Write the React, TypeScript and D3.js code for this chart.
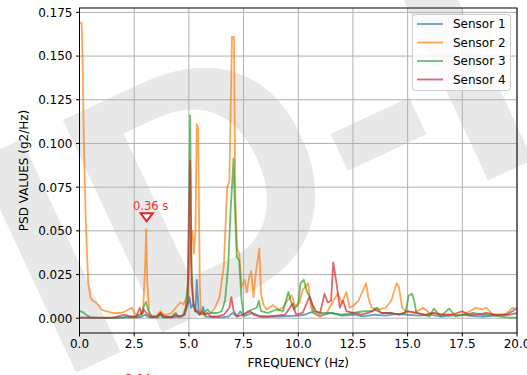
import React, { useRef, useEffect } from 'react';
import * as d3 from 'd3';

// Chart size
const W = 527;
const H = 375;

const sensorNames = ['Sensor 1', 'Sensor 2', 'Sensor 3', 'Sensor 4'];
const sensorColors = ['#1f77b4', '#ff7f0e', '#2ca02c', '#d62728'];

const xTicks = [0, 2.5, 5, 7.5, 10, 12.5, 15, 17.5, 20];
const yTicks = [0, 0.025, 0.05, 0.075, 0.1, 0.125, 0.15, 0.175];

// Sensor 1 (blue)
const s1Freq = [0, 0.5, 1, 1.5, 2.0, 2.2, 2.5, 2.8, 3.0, 3.1, 3.3, 3.7, 3.8, 4.0, 4.4, 4.6, 4.8, 4.95, 5.03, 5.1, 5.2, 5.3, 5.36, 5.45, 5.55, 5.65, 5.75, 6.0, 6.5, 6.8, 7.0, 7.2, 7.35, 7.5, 7.7, 7.9, 8.1, 8.3, 8.6, 9.0, 9.5, 10.0, 10.3, 10.6, 11.0, 11.5, 12.0, 12.5, 13.0, 13.5, 14.0, 14.5, 15.0, 15.5, 16.0, 16.5, 17.0, 17.5, 18.0, 18.5, 19.0, 19.5, 19.8, 20.0];
const s1Psd = [0.0003, 0.0002, 0.0002, 0.0002, 0.0005, 0.001, 0.0005, 0.0007, 0.002, 0.001, 0.0004, 0.002, 0.0005, 0.0003, 0.0008, 0.001, 0.002, 0.008, 0.012, 0.006, 0.008, 0.004, 0.022, 0.004, 0.003, 0.0065, 0.001, 0.0008, 0.0005, 0.001, 0.003, 0.001, 0.004, 0.001, 0.002, 0.003, 0.002, 0.001, 0.0008, 0.001, 0.0012, 0.0015, 0.002, 0.0035, 0.0015, 0.003, 0.0015, 0.002, 0.001, 0.002, 0.0015, 0.0025, 0.002, 0.0015, 0.002, 0.001, 0.0015, 0.002, 0.0012, 0.001, 0.0015, 0.002, 0.004, 0.006];

// Sensor 2 (orange)
const s2Freq = [0, 0.1, 0.15, 0.2, 0.3, 0.4, 0.5, 0.6, 0.75, 0.9, 1.0, 1.2, 1.5, 1.7, 1.9, 2.1, 2.4, 2.55, 2.7, 2.9, 3.0, 3.05, 3.1, 3.2, 3.5, 3.7, 3.85, 4.0, 4.2, 4.4, 4.6, 4.75, 4.9, 5.0, 5.1, 5.17, 5.23, 5.3, 5.36, 5.42, 5.5, 5.55, 5.7, 6.0, 6.2, 6.4, 6.6, 6.75, 6.85, 6.97, 7.06, 7.12, 7.2, 7.3, 7.41, 7.55, 7.65, 7.75, 7.85, 7.95, 8.05, 8.22, 8.3, 8.4, 8.55, 8.85, 9.1, 9.3, 9.55, 9.7, 9.85, 10.05, 10.2, 10.45, 10.6, 10.8, 11.0, 11.3, 11.6, 11.8, 12.0, 12.2, 12.35, 12.5, 12.75, 13.1, 13.2, 13.35, 13.7, 14.0, 14.25, 14.5, 14.6, 14.75, 14.9, 15.3, 15.7, 16.0, 16.5, 17.0, 17.4, 17.85, 18.1, 18.4, 18.6, 18.9, 19.3, 19.55, 19.8, 20.0];
const s2Psd = [0.169, 0.169, 0.14, 0.1, 0.05, 0.02, 0.012, 0.01, 0.009, 0.007, 0.005, 0.004, 0.003, 0.003, 0.003, 0.004, 0.006, 0.002, 0.002, 0.003, 0.03, 0.051, 0.02, 0.002, 0.001, 0.004, 0.002, 0.002, 0.003, 0.006, 0.009, 0.008, 0.012, 0.025, 0.045, 0.05, 0.037, 0.05, 0.111, 0.109, 0.02, 0.003, 0.002, 0.003, 0.006, 0.012, 0.03, 0.075, 0.078, 0.161, 0.161, 0.07, 0.04, 0.037, 0.018, 0.022, 0.015, 0.023, 0.027, 0.012, 0.025, 0.04, 0.014, 0.008, 0.005, 0.0075, 0.005, 0.006, 0.011, 0.013, 0.007, 0.009, 0.016, 0.02, 0.005, 0.002, 0.0008, 0.003, 0.01, 0.014, 0.009, 0.015, 0.006, 0.007, 0.01, 0.02, 0.012, 0.006, 0.005, 0.006, 0.01, 0.02, 0.018, 0.006, 0.004, 0.003, 0.006, 0.003, 0.002, 0.002, 0.002, 0.004, 0.006, 0.005, 0.006, 0.002, 0.002, 0.003, 0.006, 0.005];

// Sensor 3 (green)
const s3Freq = [0, 0.15, 0.3, 0.5, 0.8, 1.5, 2.0, 2.5, 2.8, 2.95, 3.05, 3.15, 3.3, 3.6, 3.7, 3.8, 4.2, 4.4, 4.5, 4.7, 4.85, 4.95, 5.02, 5.06, 5.12, 5.2, 5.3, 5.5, 5.7, 5.85, 6.0, 6.3, 6.5, 6.65, 6.8, 6.9, 6.97, 7.04, 7.1, 7.19, 7.3, 7.41, 7.5, 7.7, 7.9, 8.1, 8.2, 8.3, 8.6, 9.0, 9.3, 9.55, 9.65, 9.8, 10.0, 10.1, 10.25, 10.4, 10.55, 10.7, 11.0, 11.5, 12.0, 12.5, 13.0, 13.4, 13.6, 13.8, 14.2, 14.6, 14.9, 15.05, 15.2, 15.3, 15.4, 16.0, 16.2, 16.5, 16.9, 17.2, 17.6, 18.0, 18.4, 18.8, 19.2, 19.6, 20.0];
const s3Psd = [0.004, 0.0035, 0.002, 0.0005, 0.0003, 0.0002, 0.0003, 0.0005, 0.002, 0.007, 0.0095, 0.004, 0.001, 0.0005, 0.003, 0.001, 0.0008, 0.003, 0.001, 0.001, 0.006, 0.02, 0.08, 0.116, 0.03, 0.008, 0.004, 0.002, 0.003, 0.005, 0.003, 0.003, 0.004, 0.01, 0.03, 0.06, 0.075, 0.0915, 0.065, 0.035, 0.033, 0.01, 0.002, 0.004, 0.005, 0.006, 0.01, 0.004, 0.003, 0.005, 0.004, 0.015, 0.01, 0.005, 0.008, 0.02, 0.022, 0.015, 0.012, 0.004, 0.003, 0.003, 0.002, 0.003, 0.004, 0.004, 0.006, 0.003, 0.003, 0.002, 0.003, 0.013, 0.014, 0.01, 0.003, 0.001, 0.0055, 0.001, 0.0055, 0.001, 0.002, 0.003, 0.002, 0.002, 0.001, 0.0003, 0.0003];

// Sensor 4 (red)
const s4Freq = [0, 0.5, 1.0, 1.5, 1.9, 2.1, 2.3, 2.6, 2.75, 2.85, 2.95, 3.05, 3.2, 3.5, 3.7, 3.85, 4.2, 4.4, 4.55, 4.8, 4.95, 5.02, 5.06, 5.12, 5.2, 5.3, 5.36, 5.5, 5.6, 5.7, 5.85, 6.0, 6.3, 6.6, 6.85, 6.94, 7.05, 7.2, 7.5, 7.8, 7.95, 8.2, 8.5, 9.0, 9.4, 9.75, 9.9, 10.2, 10.5, 10.65, 10.8, 11.0, 11.2, 11.35, 11.5, 11.6, 11.75, 11.9, 12.05, 12.2, 12.5, 12.9, 13.2, 13.5, 13.8, 14.2, 14.6, 15.0, 15.4, 15.8, 16.2, 16.6, 17.0, 17.5, 17.8, 18.2, 18.6, 19.0, 19.4, 19.7, 20.0];
const s4Psd = [0.0003, 0.0003, 0.0003, 0.0004, 0.0015, 0.002, 0.001, 0.001, 0.006, 0.002, 0.005, 0.003, 0.001, 0.0005, 0.003, 0.001, 0.0005, 0.002, 0.001, 0.002, 0.01, 0.06, 0.09, 0.02, 0.01, 0.004, 0.0046, 0.002, 0.004, 0.002, 0.003, 0.001, 0.001, 0.002, 0.006, 0.012, 0.004, 0.001, 0.002, 0.004, 0.002, 0.001, 0.001, 0.0015, 0.002, 0.0085, 0.002, 0.003, 0.012, 0.008, 0.004, 0.003, 0.014, 0.009, 0.01, 0.032, 0.02, 0.006, 0.01, 0.004, 0.003, 0.002, 0.003, 0.005, 0.003, 0.003, 0.002, 0.004, 0.003, 0.002, 0.003, 0.002, 0.002, 0.004, 0.002, 0.002, 0.003, 0.002, 0.002, 0.002, 0.003];

const sensorFreqs = [s1Freq, s2Freq, s3Freq, s4Freq];
const sensorPsds = [s1Psd, s2Psd, s3Psd, s4Psd];

// Peak marker
const markerFreq = 3.07;
const markerPsd = 0.058;
const markerLabel = '0.36 s';

const App = () => {
  const svgRef = useRef<SVGSVGElement>(null);

  useEffect(() => {
    const svg = d3.select(svgRef.current);
    svg.selectAll('*').remove();

    const left = 79.5, right = 517, top = 8, bottom = 333;
    const font = 'DejaVu Sans, sans-serif';

    const x = d3.scaleLinear().domain([0, 20]).range([left, right]);
    const y = d3.scaleLinear().domain([-0.00845, 0.1775]).range([bottom, top]);

    svg.append('rect').attr('width', W).attr('height', H).attr('fill', '#fff');

    // Watermark
    svg.append('text')
      .attr('x', 55.5)
      .attr('y', 382.3)
      .attr('transform', 'rotate(-25, 55.5, 382.3)')
      .attr('font-family', 'Liberation Sans, Arial, sans-serif')
      .attr('font-weight', 'bold')
      .attr('font-size', 341)
      .attr('fill', '#e8e8e8')
      .text('ID-I');

    // Grid
    const grid = svg.append('g').attr('stroke', '#b0b0b0').attr('stroke-width', 1);
    grid.selectAll('.gx').data(xTicks).enter().append('line')
      .attr('x1', d => x(d)).attr('x2', d => x(d))
      .attr('y1', top).attr('y2', bottom);
    grid.selectAll('.gy').data(yTicks).enter().append('line')
      .attr('x1', left).attr('x2', right)
      .attr('y1', d => y(d)).attr('y2', d => y(d));

    // Lines
    sensorNames.forEach((name, i) => {
      const pts = sensorFreqs[i].map((f, j) => [f, sensorPsds[i][j]] as [number, number]);
      const line = d3.line<[number, number]>().x(d => x(d[0])).y(d => y(d[1]));
      svg.append('path')
        .datum(pts)
        .attr('d', line)
        .attr('fill', 'none')
        .attr('stroke', sensorColors[i])
        .attr('stroke-opacity', 0.7)
        .attr('stroke-width', 1.8)
        .attr('stroke-linejoin', 'round');
    });

    // Spines
    svg.append('rect')
      .attr('x', left).attr('y', top)
      .attr('width', right - left).attr('height', bottom - top)
      .attr('fill', 'none').attr('stroke', '#000').attr('stroke-width', 1);

    // Ticks
    const ticks = svg.append('g').attr('font-family', font).attr('font-size', 12).attr('fill', '#000');
    xTicks.forEach(t => {
      ticks.append('line').attr('x1', x(t)).attr('x2', x(t)).attr('y1', bottom).attr('y2', bottom + 3.5).attr('stroke', '#000');
      ticks.append('text').attr('x', x(t)).attr('y', bottom + 14.5).attr('text-anchor', 'middle').text(d3.format('.1f')(t));
    });
    yTicks.forEach(t => {
      ticks.append('line').attr('x1', left - 3.5).attr('x2', left).attr('y1', y(t)).attr('y2', y(t)).attr('stroke', '#000');
      ticks.append('text').attr('x', left - 7).attr('y', y(t) + 4.4).attr('text-anchor', 'end').text(d3.format('.3f')(t));
    });

    // Axis labels
    svg.append('text')
      .attr('x', (left + right) / 2).attr('y', 367)
      .attr('text-anchor', 'middle')
      .attr('font-family', font).attr('font-size', 12)
      .text('FREQUENCY (Hz)');
    svg.append('text')
      .attr('transform', `translate(28, ${(top + bottom) / 2}) rotate(-90)`)
      .attr('text-anchor', 'middle')
      .attr('font-family', font).attr('font-size', 12)
      .text('PSD VALUES (g2/Hz)');

    // Peak marker
    const mx = x(markerFreq), my = y(markerPsd);
    svg.append('path')
      .attr('d', `M${mx - 6},${my - 3.5} L${mx + 6},${my - 3.5} L${mx},${my + 4.5} Z`)
      .attr('fill', '#fff').attr('stroke', '#e8202a').attr('stroke-width', 2);
    svg.append('text')
      .attr('x', mx + 4).attr('y', my - 7)
      .attr('text-anchor', 'middle')
      .attr('font-family', font).attr('font-size', 11.5)
      .attr('fill', '#f0303a')
      .text(markerLabel);
    // cut off label below the axis
    svg.append('text')
      .attr('x', 138).attr('y', 383)
      .attr('text-anchor', 'middle')
      .attr('font-family', font).attr('font-size', 11.5)
      .attr('fill', '#f0303a')
      .text('3.04');

    // Legend
    const lg = svg.append('g');
    lg.append('rect')
      .attr('x', 412.5).attr('y', 14.5).attr('width', 98).attr('height', 76).attr('rx', 3)
      .attr('fill', '#fff').attr('fill-opacity', 0.8)
      .attr('stroke', '#cccccc').attr('stroke-width', 1);
    sensorNames.forEach((name, i) => {
      const ly = 24 + i * 18.5;
      lg.append('line').attr('x1', 417).attr('x2', 443).attr('y1', ly).attr('y2', ly)
        .attr('stroke', sensorColors[i]).attr('stroke-opacity', 0.7).attr('stroke-width', 1.8);
      lg.append('text').attr('x', 453).attr('y', ly + 4.4)
        .attr('font-family', font).attr('font-size', 12).text(name);
    });
  }, []);

  return (
    <svg ref={svgRef} width={W} height={H} style={{ position: 'absolute', left: 0, top: 0 }} />
  );
};

export default App;
